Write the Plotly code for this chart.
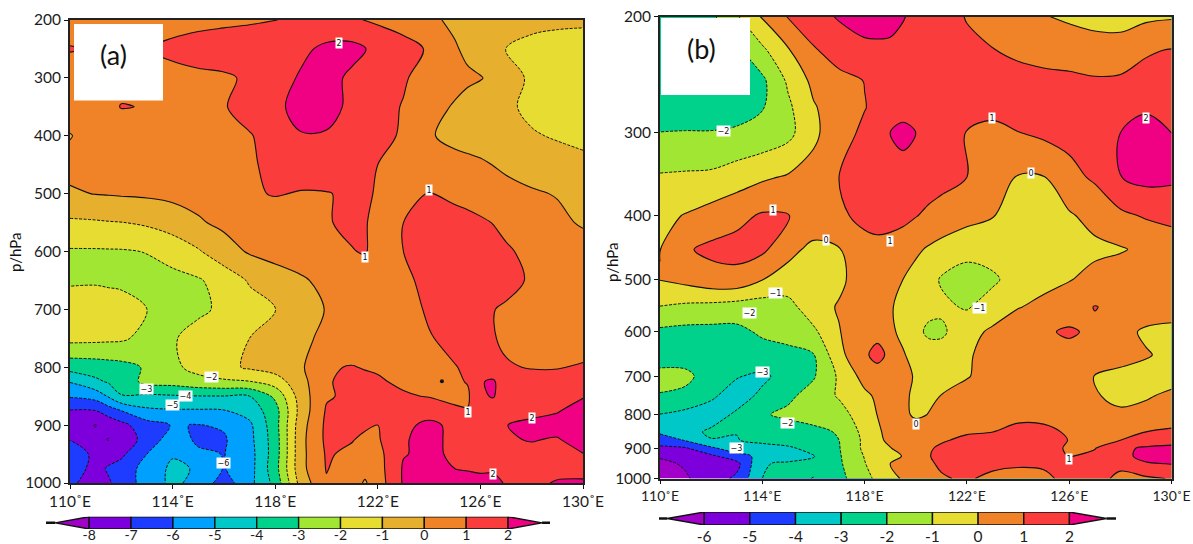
import math
import plotly.graph_objects as go

W, H = 1193, 544

# ---------- panel (a) data ----------
lon_a = [110, 111, 111.5, 112, 113, 114, 115, 116, 117, 118, 119, 120, 121, 121.5, 122, 123, 124, 125, 125.5, 126, 126.5, 127, 128, 129, 130]
p_a = [200, 250, 300, 350, 400, 450, 500, 550, 600, 650, 700, 750, 800, 825, 850, 875, 900, 925, 950, 975, 1000]
z_a = [
 [.6,.6,.62,.65,.7,.75,.8,.85,.9,.98,1.2,1.3,1.1,.98,.85,.6,.2,-.2,-.3,-.4,-.5,-.6,-.7,-.8,-.85],
 [1.05,.95,.95,.95,1.0,1.15,1.3,1.4,1.5,1.7,1.8,2.2,2.3,2.05,1.7,1.35,.9,.1,-.2,-.5,-.8,-1.02,-1.3,-1.4,-1.4],
 [.6,.7,.72,.75,.75,.8,.85,.9,1.1,1.6,2.1,2.35,1.8,1.65,1.5,1.1,.6,.35,.15,.05,-.2,-.5,-1.2,-1.4,-1.5],
 [.5,.6,.8,1.03,.97,.8,.85,.95,1.3,1.8,2.3,2.4,1.75,1.5,1.3,.95,.4,-.1,-.3,-.5,-.65,-.8,-1.25,-1.5,-1.6],
 [-.05,.45,.47,.5,.55,.6,.65,.75,.95,1.3,1.95,1.9,1.5,1.38,1.25,.9,.1,-.3,-.4,-.5,-.6,-.7,-.9,-1.1,-1.3],
 [.3,.35,.37,.4,.45,.5,.55,.7,.9,1.2,1.4,1.4,1.25,1.12,1.0,.75,.5,.35,.25,.15,-.02,-.2,-.4,-.55,-.7],
 [-.12,.03,.06,.1,.15,.25,.3,.55,.9,1.05,.95,.97,1.1,1.08,.95,.8,1.03,.85,.75,.65,.5,.35,.1,-.05,-.3],
 [-1.15,-1.1,-1.05,-1.02,-.85,-.55,-.1,.2,.4,.55,.65,.95,1.15,1.06,.75,1.0,1.25,1.25,1.2,1.1,.98,.8,.5,.2,-.1],
 [-2.1,-2.1,-2.09,-2.08,-1.97,-1.6,-1.1,-.4,.1,.3,.4,.6,.97,1.05,.75,1.0,1.3,1.4,1.4,1.4,1.25,1.1,.8,.6,.4],
 [-2.1,-2.1,-2.15,-2.2,-2.3,-2.3,-2.1,-1.6,-.9,-.4,-.1,.2,.5,.6,.65,.85,1.2,1.4,1.4,1.4,1.35,1.25,.9,.7,.6],
 [-1.6,-1.5,-1.55,-1.6,-2.0,-2.3,-2.2,-1.8,-1.4,-1.03,-.5,.05,.35,.45,.55,.7,1.1,1.3,1.25,1.15,1.02,.9,.7,.6,.55],
 [-1.7,-1.75,-1.8,-1.85,-2.3,-2.1,-1.6,-1.3,-1.0,-.7,-.2,.2,.45,.5,.55,.7,.95,1.2,1.25,1.2,1.05,.85,.65,.55,.5],
 [-3.6,-3.5,-3.4,-3.3,-2.9,-2.2,-1.7,-1.3,-.85,-.55,-.15,.93,1.04,.95,.9,.8,.85,.97,1.1,1.35,1.5,1.08,.95,.95,1.1],
 [-4.95,-4.2,-3.9,-3.6,-2.7,-2.6,-2.3,-2.15,-2.05,-1.5,-.35,.9,1.3,1.2,1.1,.85,.7,.85,1.05,1.95,2.1,1.5,1.35,1.35,1.4],
 [-5.9,-5.6,-4.9,-4.05,-4.2,-4.1,-4.03,-4.02,-4.0,-2.8,-.5,.9,1.2,1.22,1.25,1.1,.95,.85,.85,1.9,2.05,1.6,1.6,1.7,1.95],
 [-7.05,-7,-6.5,-6,-5.2,-5.1,-5.1,-5.05,-4.6,-3.4,-.6,1.1,1.4,1.45,1.6,1.7,1.6,1.1,1.05,1.5,1.6,1.6,1.7,1.95,2.3],
 [-7.6,-8.03,-7.7,-7.3,-6.4,-5.95,-6.03,-5.9,-5.2,-3.4,-.4,1.2,1.3,1.15,1.0,1.8,2.2,1.8,1.7,1.7,1.8,1.98,2.25,2.25,2.6],
 [-7.02,-7.8,-8.03,-7.5,-6.7,-5.4,-6.2,-6.1,-5.3,-3.5,-.3,1.2,1.05,.8,.9,1.9,2.35,1.7,1.65,1.65,1.7,1.95,2.03,1.95,2.3],
 [-6.5,-7.2,-7.4,-7.2,-6,-5.1,-5.8,-6.03,-5.4,-3.5,-.3,1.1,.8,.5,.7,1.95,2.2,1.85,1.8,1.75,1.75,1.8,1.85,1.9,1.98],
 [-6.5,-7.3,-6.9,-6.6,-5.6,-4.8,-5.1,-6.05,-5.4,-3.4,-.3,1.05,.5,.3,.6,2.1,2.1,2,1.98,1.95,1.95,1.9,1.9,1.93,1.95],
 [-6.8,-7.5,-7.1,-6.7,-5.5,-4.8,-5.3,-6.5,-5.3,-3.7,-.6,.9,.4,-.1,.5,2.1,2.2,2.1,2.1,2.1,2.1,1.97,1.95,2.02,2.02],
]
lab_a_text = ["2", "1", "1", "\u22122", "\u22123", "\u22124", "\u22125", "\u22126", "1", "2", "2"]
lab_a_lon = [120.5, 124, 121.5, 115.5, 113, 114.5, 114, 116, 125.5, 128, 126.5]
lab_a_p = [239, 494, 609, 816, 838, 850, 866, 965, 877, 888, 985]
levels_a = [-8, -7, -6, -5, -4, -3, -2, -1, 0, 1, 2]
colors_a = ["#a000c8", "#7d00dc", "#1e3cff", "#00a0ff", "#00c8c8", "#00d28c", "#a0e632", "#e6dc32", "#e6af2d", "#f08228", "#fa3c3c", "#f00082"]
yticks_a = [200, 300, 400, 500, 600, 700, 800, 900, 1000]

# ---------- panel (b) data ----------
lon_b = [110, 111, 112, 113, 114, 115, 116, 117, 118, 118.5, 119, 119.5, 120, 120.5, 121, 122, 123, 124, 125, 126, 127, 128, 129, 130]
p_b = [200, 225, 250, 275, 300, 350, 400, 450, 500, 550, 600, 650, 700, 750, 800, 850, 875, 900, 925, 950, 1000]
z_b = [
 [-2.8,-2.6,-2.2,-1.1,.1,1.05,1.6,2.1,2.5,2.5,2.4,2.05,1.8,1.6,1.4,.95,.7,.45,.05,-.15,-.3,-.35,-.2,-.1],
 [-2.7,-2.6,-2.4,-2.2,-1.2,-.1,.9,1.4,1.7,1.75,1.75,1.75,1.6,1.5,1.4,1.2,1.03,.8,.65,.55,.4,.4,.9,1.05],
 [-2.6,-2.6,-2.5,-2.4,-2.2,-.85,.25,.75,1.02,1.4,1.6,1.6,1.6,1.6,1.55,1.5,1.45,1.35,1.25,1.2,1.1,1.15,1.3,1.4],
 [-2.5,-2.5,-2.5,-2.4,-2.05,-1.2,-.1,.55,.97,1.2,1.5,1.6,1.6,1.6,1.55,1.4,1.2,1.3,1.4,1.5,1.6,1.75,1.9,1.9],
 [-1.98,-1.95,-1.95,-1.85,-1.7,-1.3,-.2,.6,1.2,1.5,2.0,2.3,2.0,1.6,1.3,.97,.8,.98,1.2,1.3,1.5,2.0,2.3,2.0],
 [-.9,-.85,-.8,-.5,-.15,.1,.35,1.0,1.25,1.4,1.5,1.55,1.55,1.5,1.35,1.0,.35,-.05,-.03,.7,1.15,1.98,2.3,2.2],
 [-.25,.05,.4,.75,1.1,1.02,.7,.8,1.3,1.4,1.35,1.25,1.05,.8,.6,.35,.05,-.5,-.45,-.1,.3,.8,1.1,1.25],
 [-.02,.9,1.2,1.3,1.2,.3,-.25,-.05,.6,.7,.65,.5,.15,-.1,-.3,-.7,-.5,-.6,-.5,-.3,-.2,-.08,.2,.5],
 [.03,.3,.65,.7,.02,-.4,-.5,-.2,.5,.6,.4,0,-.3,-.6,-1.1,-1.4,-1.2,-.5,-.3,-.05,.3,.5,.6,.65],
 [-1.03,-1.2,-1.3,-1.45,-1.5,-1.35,-.4,.08,.6,.65,.1,-.3,-.5,-.7,-.8,-1.1,-.5,-.05,.25,.6,1.03,.8,.75,.7],
 [-2.2,-2.3,-2.3,-2.25,-1.85,-1.6,-1.2,-.05,.7,.8,.2,-.25,-.7,-1.2,-1.2,-.3,.15,.6,.9,1.1,.85,.4,-.2,-.4],
 [-2.4,-2.4,-2.5,-2.5,-2.4,-2.3,-2.05,-.3,.9,1.2,.85,.1,-.4,-.5,-.5,-.1,.3,.6,.7,.75,.7,.5,.1,-.3],
 [-1.75,-1.8,-2.4,-2.95,-3.15,-2.7,-2.1,-.85,.35,.7,.6,.3,-.1,-.3,-.3,-.05,.3,.55,.6,.3,-.01,-.35,-.4,-.4],
 [-2.05,-2.2,-2.9,-3.3,-2.85,-2.2,-1.6,-.9,-.2,.15,.5,.2,-.2,-.15,.02,.3,.45,.6,.6,.4,.1,-.3,-.1,.2],
 [-3.02,-3.3,-3.3,-2.9,-2.1,-1.8,-1.5,-1.4,-.45,.02,.4,.2,-.15,.02,.3,.5,.6,.7,.75,.7,.5,.2,.3,.45],
 [-3.9,-3.2,-2.9,-2.98,-2.7,-2.5,-2.3,-1.9,-.7,-.15,.3,.45,.5,.6,.7,.9,.99,1.3,1.2,.9,.85,.9,1.0,1.15],
 [-4.3,-3.95,-3.03,-3.03,-2.8,-2.6,-2.4,-2.0,-.8,-.25,.25,.45,.55,.7,.9,1.2,1.35,1.45,1.3,.98,.9,1.0,1.15,1.35],
 [-5.3,-5.1,-4.2,-3.4,-3.3,-3.15,-2.7,-2.05,-.8,-.3,-.05,.4,.7,.9,1.15,1.45,1.6,1.6,1.3,.9,.97,1.7,2.2,2.4],
 [-5.9,-5.5,-5.2,-4.4,-3.7,-3.3,-3.05,-2.1,-.95,-.4,-.15,.02,.8,.97,1.15,1.4,1.55,1.65,1.4,.97,1.15,1.7,2.3,2.6],
 [-6.2,-5.9,-5.5,-5.3,-3.05,-2.9,-2.8,-2.15,-1.05,-.5,0,.3,.6,.9,1.1,1.25,1.2,1.05,1.1,1.2,1.3,1.1,1.9,2.03],
 [-6.7,-6.1,-5.5,-4.8,-3,-2.8,-3.02,-2.3,-1.3,-.8,-.3,.1,.4,.7,.93,1.1,.8,.85,.85,1.2,1.15,.9,.85,1.05],
]
lab_b_text = ["\u22122", "1", "0", "2", "1", "0", "1", "\u22121", "\u22122", "\u22121", "\u22123", "\u22122", "0", "\u22123", "1"]
lab_b_lon = [112.5, 123, 124.5, 129, 114.4, 116.5, 119, 114.5, 113.5, 122.5, 114, 115, 120, 113, 126]
lab_b_p = [298, 285, 345, 285, 392, 435, 437, 524, 561, 553, 689, 823, 828, 900, 935]
levels_b = [-6, -5, -4, -3, -2, -1, 0, 1, 2]
colors_b = ["#a000c8", "#7d00dc", "#1e3cff", "#00c8c8", "#00d28c", "#a0e632", "#e6dc32", "#f08228", "#fa3c3c", "#f00082"]
yticks_b = [200, 300, 400, 500, 600, 700, 800, 900, 1000]

xticks = [110, 114, 118, 122, 126, 130]
xticklabels = ["110\u02daE", "114\u02daE", "118\u02daE", "122\u02daE", "126\u02daE", "130\u02daE"]

FONT = "Lato, 'Open Sans', sans-serif"
INK = "#1c1c1c"

def stepped(colors):
    n = len(colors)
    cs = []
    for i, c in enumerate(colors):
        cs.append([i / n, c])
        cs.append([(i + 1) / n, c])
    return cs

def dom_x(a, b):
    return [a / W, b / W]

def dom_y(top, bottom):
    return [1 - bottom / H, 1 - top / H]

fig = go.Figure()

def contour_panel(x, y, z, levels, colors, xa, ya):
    lo, hi = levels[0], levels[-1]
    fig.add_trace(go.Contour(x=x, y=y, z=z, xaxis=xa, yaxis=ya, showscale=False, hoverinfo="skip",
        zauto=False, zmin=lo - 1, zmax=hi + 1, colorscale=stepped(colors),
        autocontour=False, contours=dict(start=lo, end=hi, size=1, coloring="fill", showlines=False),
        line=dict(width=0, smoothing=1)))
    fig.add_trace(go.Contour(x=x, y=y, z=z, xaxis=xa, yaxis=ya, showscale=False, hoverinfo="skip",
        autocontour=False, contours=dict(start=lo, end=-1, size=1, coloring="none"),
        line=dict(color="#111111", width=1, dash="3px,1.5px", smoothing=1)))
    fig.add_trace(go.Contour(x=x, y=y, z=z, xaxis=xa, yaxis=ya, showscale=False, hoverinfo="skip",
        autocontour=False, contours=dict(start=0, end=hi, size=1, coloring="none"),
        line=dict(color="#111111", width=1.1, smoothing=1)))

contour_panel(lon_a, p_a, z_a, levels_a, colors_a, "x", "y")
contour_panel(lon_b, p_b, z_b, levels_b, colors_b, "x2", "y2")

def colorbar(levels, colors, xa, ya):
    lo, hi = levels[0], levels[-1]
    stub = 0.22
    tip = 0.81
    edge = dict(color="#111", width=1.4)
    fig.add_trace(go.Scatter(x=[lo, lo - tip, lo, lo], y=[1, .5, 0, 1], xaxis=xa, yaxis=ya, mode="lines",
        fill="toself", fillcolor=colors[0], line=edge, hoverinfo="skip", showlegend=False))
    for i, lev in enumerate(levels[:-1]):
        fig.add_trace(go.Scatter(x=[lev, lev + 1, lev + 1, lev, lev], y=[0, 0, 1, 1, 0], xaxis=xa, yaxis=ya, mode="lines",
            fill="toself", fillcolor=colors[i + 1], line=edge, hoverinfo="skip", showlegend=False))
    fig.add_trace(go.Scatter(x=[hi, hi + tip, hi, hi], y=[1, .5, 0, 1], xaxis=xa, yaxis=ya, mode="lines",
        fill="toself", fillcolor=colors[-1], line=edge, hoverinfo="skip", showlegend=False))
    for xs in ([lo - tip - stub, lo - tip], [hi + tip, hi + tip + stub]):
        fig.add_trace(go.Scatter(x=xs, y=[.5, .5], xaxis=xa, yaxis=ya, mode="lines",
            line=dict(color="#111", width=2.5), hoverinfo="skip", showlegend=False))

colorbar(levels_a, colors_a, "x3", "y3")
colorbar(levels_b, colors_b, "x4", "y4")

# tiny closed contour in panel (a)
dot_lon = [124.5]
dot_p = [824]
fig.add_trace(go.Scatter(x=dot_lon, y=dot_p, xaxis="x", yaxis="y", mode="markers",
    marker=dict(color="#111", size=4), hoverinfo="skip", showlegend=False))

axis_font = dict(family=FONT, size=15.5, color=INK)
bar_font = dict(family=FONT, size=14, color=INK)
edge_font = dict(family=FONT, size=14, color=INK)

def map_xaxis(domain, anchor, font):
    return dict(domain=domain, anchor=anchor, range=[110, 130], tickvals=xticks, ticktext=xticklabels,
        ticks="outside", ticklen=4, tickwidth=1.2, tickcolor="#111", showline=True, linecolor="#222",
        linewidth=1.6, mirror=True, showgrid=False, zeroline=False, tickfont=font, automargin=False)

def map_yaxis(domain, anchor, typ, rng, vals):
    return dict(domain=domain, anchor=anchor, type=typ, range=rng, tickmode="array", tickvals=vals,
        ticktext=[str(v) for v in vals], ticks="outside", ticklen=4, tickwidth=1.2, tickcolor="#111",
        showline=True, linecolor="#222", linewidth=1.6, mirror=True, showgrid=False, zeroline=False,
        tickfont=axis_font, automargin=False)

fig.update_layout(
    width=W, height=H, autosize=False, margin=dict(l=0, r=0, t=0, b=0, pad=0, autoexpand=False),
    paper_bgcolor="white", plot_bgcolor="white", showlegend=False,
    xaxis=map_xaxis(dom_x(70, 583), "y", axis_font),
    yaxis=map_yaxis(dom_y(20, 483), "x", "linear", [1000, 200], yticks_a),
    xaxis2=map_xaxis(dom_x(660, 1171.5), "y2", edge_font),
    yaxis2=map_yaxis(dom_y(16.5, 478.5), "x2", "log", [3, math.log10(200)], yticks_b),
    xaxis3=dict(domain=dom_x(46, 550), anchor="y3", range=[-9.03, 3.0], tickvals=levels_a,
        ticktext=[str(v) for v in levels_a], ticks="", showgrid=False, zeroline=False, showline=False,
        tickfont=bar_font, ticklabelstandoff=-4),
    yaxis3=dict(domain=dom_y(516.7, 529), anchor="x3", range=[0, 1], visible=False),
    xaxis4=dict(domain=dom_x(659, 1116), anchor="y4", range=[-6.99, 3.02], tickvals=levels_b,
        ticktext=[str(v) for v in levels_b], ticks="", showgrid=False, zeroline=False, showline=False,
        tickfont=axis_font),
    yaxis4=dict(domain=dom_y(512, 525), anchor="x4", range=[0, 1], visible=False),
)

# white panel-letter boxes
for (x0, y0, x1, y1) in [(74, 24, 163, 100.5), (661, 18, 750, 95)]:
    fig.add_shape(type="rect", xref="paper", yref="paper", x0=x0 / W, x1=x1 / W, y0=1 - y1 / H, y1=1 - y0 / H,
        fillcolor="white", line=dict(width=0), layer="above")

ann = []
for t, lx, ly in zip(lab_a_text, lab_a_lon, lab_a_p):
    ann.append(dict(x=lx, y=ly, xref="x", yref="y", text=t, showarrow=False,
        font=dict(family="DejaVu Sans", size=8, color="#111"), bgcolor="white", borderpad=0.5))
for t, lx, ly in zip(lab_b_text, lab_b_lon, lab_b_p):
    ann.append(dict(x=lx, y=math.log10(ly), xref="x2", yref="y2", text=t, showarrow=False,
        font=dict(family="DejaVu Sans", size=8, color="#111"), bgcolor="white", borderpad=0.5))
for txt, px, py, size, angle in [("(a)", 113, 55, 27, 0), ("(b)", 701, 48, 27, 0),
                                 ("p/hPa", 15, 252, 15, -90), ("p/hPa", 612, 262, 15, -90)]:
    ann.append(dict(x=px / W, y=1 - py / H, xref="paper", yref="paper", text=txt, textangle=angle,
        showarrow=False, xanchor="center", yanchor="middle", font=dict(family=FONT, size=size, color="#111")))
fig.update_layout(annotations=ann)

fig.write_html("out.html", config=dict(displayModeBar=False), post_script="document.body.style.margin='0';")
